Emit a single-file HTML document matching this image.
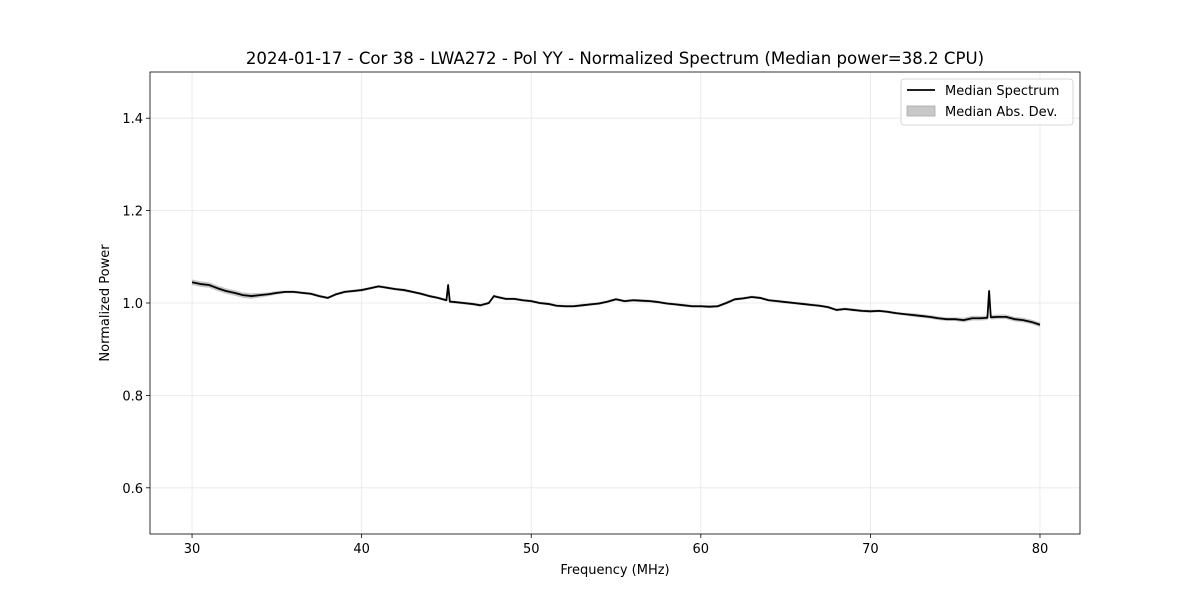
<!DOCTYPE html>
<html><head><meta charset="utf-8"><style>
body{margin:0;background:#fff;font-family:"Liberation Sans","DejaVu Sans",sans-serif}
svg text{font-family:"DejaVu Sans","Liberation Sans",sans-serif}
</style></head><body>
<svg id="c" width="1200" height="600"></svg>
<script>
const freqs=[30,30.5,31,31.5,32,32.5,33,33.5,34,34.5,35,35.5,36,36.5,37,37.5,38,38.5,39,39.5,40,40.5,41,41.5,42,42.5,43,43.5,44,44.5,45,45.1,45.2,45.5,46,46.5,47,47.5,47.8,48,48.5,49,49.5,50,50.5,51,51.5,52,52.5,53,53.5,54,54.5,55,55.5,56,56.5,57,57.5,58,58.5,59,59.5,60,60.5,61,61.5,62,62.5,63,63.5,64,64.5,65,65.5,66,66.5,67,67.5,68,68.5,69,69.5,70,70.5,71,71.5,72,72.5,73,73.5,74,74.5,75,75.5,76,76.5,76.9,77,77.1,77.5,78,78.5,79,79.5,80];
const medianPower=[1.045,1.041,1.039,1.032,1.026,1.022,1.017,1.015,1.017,1.019,1.022,1.024,1.024,1.022,1.020,1.015,1.011,1.019,1.024,1.026,1.028,1.032,1.036,1.033,1.030,1.028,1.024,1.020,1.015,1.011,1.006,1.039,1.003,1.002,1.000,0.998,0.995,1.000,1.015,1.013,1.009,1.009,1.006,1.004,1.000,0.998,0.994,0.993,0.993,0.995,0.997,0.999,1.003,1.008,1.004,1.006,1.005,1.004,1.002,0.999,0.997,0.995,0.993,0.993,0.992,0.993,1.000,1.008,1.010,1.013,1.011,1.006,1.004,1.002,1.000,0.998,0.996,0.994,0.991,0.985,0.987,0.985,0.983,0.982,0.983,0.981,0.978,0.976,0.974,0.972,0.970,0.967,0.965,0.965,0.963,0.967,0.967,0.968,1.026,0.969,0.970,0.970,0.965,0.963,0.959,0.953];
const madValues=[0.006,0.006,0.006,0.006,0.006,0.006,0.006,0.006,0.005,0.004,0.004,0.003,0.003,0.003,0.003,0.003,0.003,0.003,0.003,0.003,0.003,0.003,0.003,0.003,0.003,0.003,0.003,0.003,0.003,0.003,0.003,0.005,0.003,0.003,0.003,0.003,0.003,0.003,0.003,0.003,0.003,0.003,0.003,0.003,0.003,0.003,0.003,0.003,0.003,0.003,0.003,0.003,0.003,0.003,0.003,0.003,0.003,0.003,0.003,0.003,0.003,0.003,0.003,0.003,0.003,0.003,0.003,0.003,0.003,0.003,0.003,0.003,0.003,0.003,0.003,0.003,0.003,0.003,0.003,0.003,0.003,0.003,0.003,0.003,0.003,0.003,0.003,0.003,0.004,0.004,0.004,0.004,0.004,0.004,0.005,0.005,0.005,0.005,0.008,0.005,0.005,0.005,0.005,0.005,0.005,0.005];
const xTicks=[30,40,50,60,70,80];
const yTicks=[0.6,0.8,1.0,1.2,1.4];
const NS="http://www.w3.org/2000/svg",svg=document.getElementById('c');
const L=150,R=1080,T=72,B=534,x0=27.52,x1=82.36,y0=0.5,y1=1.5;
const X=v=>L+(v-x0)/(x1-x0)*(R-L), Y=v=>B-(v-y0)/(y1-y0)*(B-T);
function mk(t,a,txt){const e=document.createElementNS(NS,t);for(const k in a)e.setAttribute(k,a[k]);if(txt!=null)e.textContent=txt;svg.appendChild(e);return e;}
let e;
e=mk('rect',{x:L,y:T,width:R-L,height:B-T,fill:'#fff'});


xTicks.forEach(t=>{
 e=mk('line',{x1:X(t),x2:X(t),y1:T,y2:B,stroke:'#e6e6e6','stroke-width':0.8});
 
 
 e=mk('line',{x1:X(t),x2:X(t),y1:B,y2:B+4,stroke:'#000','stroke-width':0.8});
 
 
 e=mk('text',{x:X(t),y:B+19,'text-anchor':'middle','font-size':13},String(t));
 
 
});
yTicks.forEach(t=>{
 e=mk('line',{x1:L,x2:R,y1:Y(t),y2:Y(t),stroke:'#e6e6e6','stroke-width':0.8});
 
 
 e=mk('line',{x1:L-4,x2:L,y1:Y(t),y2:Y(t),stroke:'#000','stroke-width':0.8});
 
 
 e=mk('text',{x:L-7,y:Y(t)+5,'text-anchor':'end','font-size':13},t.toFixed(1));
 
 
});
let up=freqs.map((f,i)=>X(f)+','+Y(medianPower[i]+madValues[i]));
let dn=freqs.map((f,i)=>X(f)+','+Y(medianPower[i]-madValues[i])).reverse();
e=mk('polygon',{points:up.concat(dn).join(' '),fill:'#000','fill-opacity':0.22,stroke:'none'});


e=mk('polyline',{points:freqs.map((f,i)=>X(f)+','+Y(medianPower[i])).join(' '),fill:'none',stroke:'#000','stroke-width':1.8,'stroke-linejoin':'round'});


e=mk('rect',{x:L,y:T,width:R-L,height:B-T,fill:'none',stroke:'#000','stroke-width':0.8});


e=mk('text',{x:615,y:64,'text-anchor':'middle','font-size':16.6},'2024-01-17 - Cor 38 - LWA272 - Pol YY - Normalized Spectrum (Median power=38.2 CPU)');


e=mk('text',{x:615,y:574,'text-anchor':'middle','font-size':13},'Frequency (MHz)');


e=mk('text',{x:109,y:303,'text-anchor':'middle','font-size':13,transform:'rotate(-90 109 303)'},'Normalized Power');


e=mk('rect',{x:901,y:79,width:172,height:46,rx:3,fill:'#fff','fill-opacity':0.8,stroke:'#ccc','stroke-width':0.8});


e=mk('line',{x1:907,x2:935,y1:90,y2:90,stroke:'#000','stroke-width':1.8});


e=mk('text',{x:945,y:95,'font-size':13},'Median Spectrum');


e=mk('rect',{x:907,y:106,width:28,height:10,fill:'#c8c8c8',stroke:'#aaa','stroke-width':0.8});


e=mk('text',{x:945,y:116,'font-size':13},'Median Abs. Dev.');


</script>
</body></html>
